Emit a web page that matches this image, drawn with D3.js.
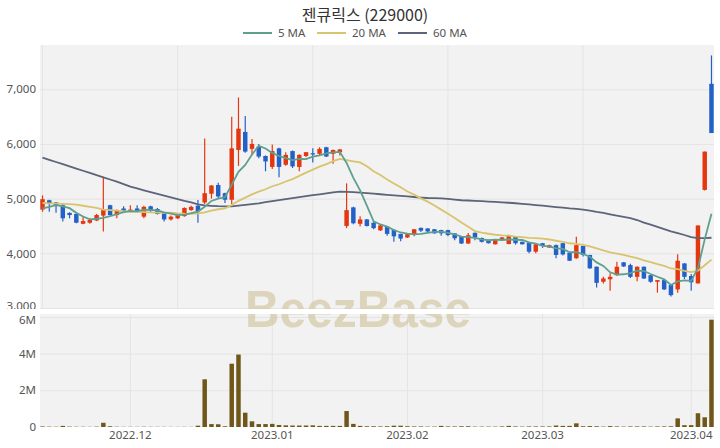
<!DOCTYPE html>
<html><head><meta charset="utf-8">
<script src="https://cdn.jsdelivr.net/npm/d3@7"></script>
<style>
html,body{margin:0;padding:0;background:#fff;}
svg{display:block;font-family:"Noto Sans","Noto Sans CJK KR",sans-serif;}
</style></head><body>
<svg id="chart" width="720" height="448"></svg>
<script>
const title = "젠큐릭스 (229000)";
const dates = [
"2022-11-14","2022-11-15","2022-11-16","2022-11-17","2022-11-18","2022-11-21","2022-11-22","2022-11-23","2022-11-24","2022-11-25","2022-11-28","2022-11-29","2022-11-30",
"2022-12-01","2022-12-02","2022-12-05","2022-12-06","2022-12-07","2022-12-08","2022-12-09","2022-12-12","2022-12-13","2022-12-14","2022-12-15","2022-12-16","2022-12-19","2022-12-20","2022-12-21","2022-12-22","2022-12-23","2022-12-26","2022-12-27","2022-12-28","2022-12-29",
"2023-01-02","2023-01-03","2023-01-04","2023-01-05","2023-01-06","2023-01-09","2023-01-10","2023-01-11","2023-01-12","2023-01-13","2023-01-16","2023-01-17","2023-01-18","2023-01-19","2023-01-20","2023-01-25","2023-01-26","2023-01-27","2023-01-30","2023-01-31",
"2023-02-01","2023-02-02","2023-02-03","2023-02-06","2023-02-07","2023-02-08","2023-02-09","2023-02-10","2023-02-13","2023-02-14","2023-02-15","2023-02-16","2023-02-17","2023-02-20","2023-02-21","2023-02-22","2023-02-23","2023-02-24","2023-02-27","2023-02-28",
"2023-03-02","2023-03-03","2023-03-06","2023-03-07","2023-03-08","2023-03-09","2023-03-10","2023-03-13","2023-03-14","2023-03-15","2023-03-16","2023-03-17","2023-03-20","2023-03-21","2023-03-22","2023-03-23","2023-03-24","2023-03-27","2023-03-28","2023-03-29","2023-03-30","2023-03-31",
"2023-04-03","2023-04-04","2023-04-05","2023-04-06"];
const open = [4800,4970,4930,4880,4740,4720,4540,4560,4600,4690,
4880,4700,4820,4760,4820,4670,4860,4810,4730,4620,
4640,4680,4790,4870,4930,5090,5250,5100,4980,5890,
6220,5910,5950,5780,5580,5920,5620,5870,5580,5780,
5830,5820,5940,5820,5850,4500,4840,4540,4620,4560,
4420,4490,4430,4355,4290,4355,4465,4455,4440,4425,
4425,4365,4305,4180,4375,4280,4245,4165,4245,4170,
4305,4210,4195,4030,4185,4105,4150,4185,4010,3910,
4135,3970,3755,3480,3525,3600,3835,3785,3570,3755,
3600,3480,3510,3420,3340,3815,3585,3450,5160,7100];
const high = [5060,4980,4940,4910,4750,4730,4670,4640,4720,5400,
4890,4800,4860,4880,4880,4870,4870,4830,4740,4690,
4710,4840,4870,4975,6100,5250,5290,5110,6500,6850,
6510,6090,6000,5790,5990,5930,5850,5880,5810,5850,
5920,5940,5950,5900,5910,5280,4850,4680,4630,4570,
4520,4500,4440,4360,4360,4445,4470,4460,4445,4430,
4430,4370,4310,4370,4380,4290,4250,4250,4300,4340,
4310,4215,4200,4170,4190,4155,4160,4190,4015,4305,
4140,3975,3760,3570,3635,3845,3840,3810,3760,3760,
3605,3510,3515,3425,3985,3820,3620,4510,5860,7620];
const low = [4760,4760,4740,4580,4640,4550,4530,4540,4590,4400,
4690,4640,4760,4750,4750,4640,4760,4710,4580,4600,
4630,4670,4780,4560,4900,5000,5000,4920,4900,5600,
5840,5800,5740,5500,5540,5390,5600,5560,5500,5760,
5660,5780,5760,5640,5790,4460,4530,4490,4490,4440,
4410,4320,4210,4220,4280,4310,4390,4370,4360,4320,
4310,4240,4170,4170,4240,4200,4180,4160,4240,4165,
4160,4160,4000,4000,4100,4100,3910,3960,3860,3900,
3940,3720,3375,3450,3315,3590,3750,3550,3490,3530,
3460,3280,3330,3210,3280,3530,3315,3450,5150,6200];
const close = [4990,4920,4880,4640,4700,4560,4590,4610,4700,4790,
4700,4790,4780,4800,4770,4850,4780,4720,4620,4670,
4700,4830,4850,4770,5100,5240,5040,4980,5920,6280,
5860,6000,5770,5680,5870,5580,5800,5590,5800,5850,
5810,5910,5770,5890,5900,4790,4550,4620,4500,4460,
4510,4355,4310,4270,4350,4440,4415,4400,4365,4365,
4335,4275,4180,4330,4290,4210,4185,4245,4290,4335,
4185,4165,4030,4165,4135,4150,3970,3980,3865,4150,
3970,3725,3460,3540,3570,3755,3760,3570,3755,3540,
3480,3510,3340,3235,3865,3570,3470,4510,5860,6200];
const volume = [30000,20000,15000,60000,20000,15000,15000,10000,20000,230000,
40000,15000,10000,10000,10000,15000,10000,10000,10000,8000,
8000,10000,8000,70000,2600000,160000,150000,40000,3450000,3950000,
780000,310000,160000,160000,170000,110000,90000,80000,80000,80000,
90000,60000,60000,60000,60000,870000,170000,60000,40000,40000,
30000,40000,70000,70000,40000,30000,30000,20000,20000,60000,
30000,30000,40000,40000,20000,20000,20000,20000,30000,60000,
30000,20000,30000,30000,30000,30000,80000,60000,60000,200000,
40000,50000,40000,20000,50000,30000,20000,30000,30000,30000,
20000,30000,30000,40000,470000,100000,100000,750000,530000,5850000];
const ma5 = [4820,4850,4880,4860,4826,4740,4674,4620,4632,4650,4678,4718,4752,4772,4768,4798,4796,4784,4748,4728,4698,4708,4734,4764,4850,4958,5000,5026,5256,5492,5616,5808,5966,5918,5836,5780,5740,5704,5728,5724,5770,5792,5828,5846,5856,5652,5380,5150,4872,4584,4528,4489,4427,4381,4359,4345,4357,4375,4394,4397,4376,4348,4304,4297,4282,4257,4239,4252,4244,4253,4248,4244,4201,4176,4136,4129,4090,4080,4020,4023,3987,3938,3834,3769,3653,3610,3617,3639,3682,3676,3621,3571,3525,3421,3486,3504,3496,3730,4255,4722];
const ma20 = [4920,4915,4910,4905,4900,4890,4870,4850,4830,4800,4790,4780,4770,4765,4760,4755,4750,4745,4740,4743,4729,4724,4723,4729,4749,4783,4806,4824,4885,4960,5018,5078,5128,5172,5227,5263,5314,5358,5417,5476,5531,5585,5631,5687,5727,5705,5680,5662,5591,5500,5433,5350,5277,5207,5131,5074,5005,4945,4873,4799,4725,4644,4564,4486,4406,4377,4358,4340,4329,4323,4307,4297,4283,4278,4267,4253,4230,4209,4184,4174,4155,4128,4092,4052,4016,3994,3972,3939,3912,3872,3837,3804,3770,3723,3710,3681,3656,3682,3782,3884];
const ma60 = [5750,5710,5670,5630,5590,5550,5510,5470,5430,5390,5350,5310,5265,5220,5187,5153,5120,5088,5057,5025,4993,4960,4930,4895,4875,4868,4862,4860,4860,4872,4885,4900,4915,4935,4955,4972,4990,5010,5028,5045,5063,5080,5098,5115,5130,5125,5118,5110,5100,5090,5080,5070,5060,5050,5040,5030,5020,5012,5008,5005,4994,4983,4971,4966,4959,4953,4946,4940,4933,4925,4916,4906,4894,4883,4872,4860,4846,4834,4821,4812,4800,4782,4759,4739,4714,4689,4668,4645,4609,4563,4523,4482,4442,4401,4368,4335,4296,4278,4279,4285];
const priceTicks = [3000,4000,5000,6000,7000];
const volumeTicks = [0,2000000,4000000,6000000];
const volumeTickLabels = ["0","2M","4M","6M"];
const monthLabels = ["2022.12","2023.01","2023.02","2023.03","2023.04"];
const legendNames = ["5 MA","20 MA","60 MA"];

const C = {up:"#e5370f", down:"#2361c9", vol:"#6f5719", ma5:"#5f9f8e", ma20:"#d8c46c", ma60:"#5c6479",
  bg:"#f2f2f2", grid:"#e4e4e4", text:"#555"};
const L=40, R=714, pTop=45, pBot=308, vTop=314, vBot=427;

const svg = d3.select("#chart");
const x = d3.scaleBand().domain(dates).range([38,716]).padding(0.34);
const xc = d => x(d) + x.bandwidth()/2;
const y = d3.scaleLinear().domain([3000,7810]).range([pBot,pTop]);
const yv = d3.scaleLinear().domain([0,6160000]).range([vBot,vTop]);

// backgrounds
svg.append("rect").attr("x",L).attr("y",pTop).attr("width",R-L).attr("height",pBot-pTop).attr("fill",C.bg);
svg.append("rect").attr("x",L).attr("y",vTop).attr("width",R-L).attr("height",vBot-vTop).attr("fill",C.bg);

function styleGrid(g){
  g.select(".domain").remove();
  g.selectAll(".tick line").attr("stroke",C.grid).attr("stroke-width",1);
  g.selectAll(".tick text").remove();
}
// price grid
svg.append("g").attr("transform",`translate(${L},0)`)
  .call(d3.axisLeft(y).tickValues(priceTicks).tickSize(-(R-L)).tickFormat("")).call(styleGrid);
svg.append("g").attr("transform",`translate(0,${pBot})`)
  .call(d3.axisBottom(x).tickValues(dates.filter((d,i)=>i%20===0)).tickSize(-(pBot-pTop)).tickFormat("")).call(styleGrid);
// volume grid
const monthStarts = monthLabels.map(m => dates.find(d => d.slice(0,7).replace("-",".")===m));
svg.append("g").attr("transform",`translate(${L},0)`)
  .call(d3.axisLeft(yv).tickValues(volumeTicks.slice(1)).tickSize(-(R-L)).tickFormat("")).call(styleGrid);
svg.append("g").attr("transform",`translate(0,${vBot})`)
  .call(d3.axisBottom(x).tickValues(monthStarts).tickSize(-(vBot-vTop)).tickFormat("")).call(styleGrid);

// price axis labels
const ya = svg.append("g").attr("transform",`translate(${L},0)`)
  .call(d3.axisLeft(y).tickValues(priceTicks).tickSize(0).tickPadding(4).tickFormat(d3.format(",")));
ya.select(".domain").remove();
ya.selectAll("text").attr("fill",C.text).style("font-size","11.5px").style("font-family","'Noto Sans',sans-serif");
ya.selectAll(".tick").filter(d=>d===3000).select("text").attr("dy","0.1em");

// watermark
svg.append("text").attr("x",358).attr("y",327).attr("text-anchor","middle")
  .attr("textLength",226).attr("lengthAdjust","spacingAndGlyphs")
  .style("font-family","'Liberation Sans',Arial,sans-serif").style("font-weight","bold").style("font-size","52px")
  .attr("fill","#cfc59c").attr("fill-opacity",0.65).text("BeezBase");

// white separator band
svg.append("rect").attr("x",0).attr("y",pBot+1).attr("width",720).attr("height",vTop-pBot-1).attr("fill","#fff");

// candles
const bw = x.bandwidth();
const cg = svg.append("g");
dates.forEach((d,i)=>{
  const col = close[i] >= open[i] ? C.up : C.down;
  cg.append("line").attr("x1",xc(d)).attr("x2",xc(d)).attr("y1",y(high[i])).attr("y2",y(low[i]))
    .attr("stroke",col).attr("stroke-width",1.2);
  const top = y(Math.max(open[i],close[i])), bot = y(Math.min(open[i],close[i]));
  cg.append("rect").attr("x",x(d)).attr("y",top).attr("width",bw).attr("height",Math.max(1.2,bot-top)).attr("fill",col);
});

// moving averages
const line = d3.line().x((v,i)=>xc(dates[i])).y(v=>y(v));
[[ma60,C.ma60],[ma20,C.ma20],[ma5,C.ma5]].forEach(([arr,col])=>{
  svg.append("path").attr("d",line(arr)).attr("fill","none").attr("stroke",col).attr("stroke-width",1.8);
});

// volume bars
svg.append("g").selectAll("rect").data(volume).join("rect")
  .attr("x",(v,i)=>x(dates[i])).attr("width",bw)
  .attr("y",v=>yv(v)).attr("height",v=>vBot-yv(v)).attr("fill",C.vol);

// volume axis labels
const va = svg.append("g").attr("transform",`translate(${L},0)`)
  .call(d3.axisLeft(yv).tickValues(volumeTicks).tickSize(0).tickPadding(4).tickFormat((d,i)=>volumeTickLabels[i]));
va.select(".domain").remove();
va.selectAll("text").attr("fill",C.text).style("font-size","11.5px").style("font-family","'Noto Sans',sans-serif");
va.selectAll(".tick").filter(d=>d===6000000).select("text").attr("dy","0.55em");

// x axis labels
const xa = svg.append("g").attr("transform",`translate(0,${vBot})`)
  .call(d3.axisBottom(x).tickValues(monthStarts).tickSize(0).tickPadding(4).tickFormat((d,i)=>monthLabels[i]));
xa.select(".domain").remove();
xa.selectAll("text").attr("fill",C.text).style("font-size","11.5px").style("font-family","'Noto Sans',sans-serif");

// title
svg.append("text").attr("x",365).attr("y",21).attr("text-anchor","middle")
  .style("font-family","'Noto Sans CJK KR','Noto Sans',sans-serif").style("font-size","16px").attr("fill","#333").text(title);

// legend
const legX = [243,317,398];
const legCols = [C.ma5,C.ma20,C.ma60];
legendNames.forEach((n,i)=>{
  svg.append("line").attr("x1",legX[i]).attr("x2",legX[i]+29).attr("y1",33).attr("y2",33)
    .attr("stroke",legCols[i]).attr("stroke-width",2);
  svg.append("text").attr("x",legX[i]+35).attr("y",37).attr("fill",C.text)
    .style("font-size","11.5px").style("font-family","'Noto Sans',sans-serif").text(n);
});
</script></body></html>
